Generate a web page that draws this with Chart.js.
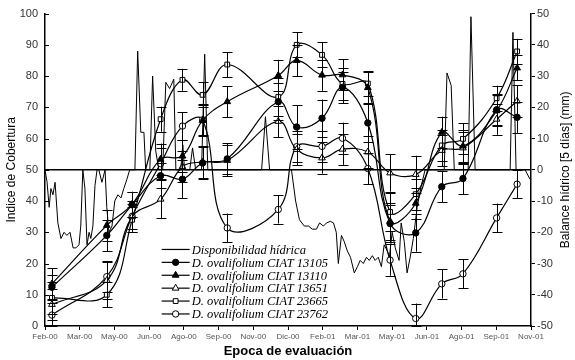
<!DOCTYPE html>
<html>
<head>
<meta charset="utf-8">
<script src="https://cdn.jsdelivr.net/npm/chart.js@4/dist/chart.umd.min.js"></script>
<style>
  html, body { margin: 0; padding: 0; background: #fff; }
  #wrap { width: 575px; height: 360px; }
</style>
</head>
<body>
<div id="wrap"><canvas id="chart"></canvas></div>
<script>
// Tick labels of the date axis (one every ~45 days)
const tickLabels = ['Feb-00', 'Mar-00', 'May-00', 'Jun-00', 'Ago-00', 'Sep-00', 'Nov-00', 'Dic-00',
    'Feb-01', 'Mar-01', 'May-01', 'Jun-01', 'Ago-01', 'Sep-01', 'Nov-01'];

// Evaluation dates, in tick units (0 = Feb-00, 14 = Nov-01)
const evalDates = [0.20, 1.78, 2.51, 3.33, 3.96, 4.54, 5.25, 6.72, 7.25, 7.98, 8.57, 9.30,
    9.94, 10.68, 11.43, 12.04, 13.01, 13.60];

// Cover index (%) and error bars per accession
const cov13105 = [12.4, 29, 38.8, 48.1, 47, 52.2, 53.5, 71.8, 63.7, 66.5, 76.4, 65, 32.8, 29.8, 44.6, 47.2, 69.2, 66.8];
const err13105 = [4, 5, 4, 4, 6, 5, 5, 6, 7, 6, 5, 6, 6, 6, 5, 5, 5, 5];
const cov13110 = [13.5, 32.2, 39, 53.4, 54.4, 65.8, 71.8, 80.2, 85, 80.3, 80.4, 76.3, 33.5, 39.3, 62, 57.6, 68.9, 82.6];
const err13110 = [5, 5, 4, 5, 5, 5, 5, 5, 5, 5, 5, 5, 6, 5, 5, 5, 5, 4];
const cov13651 = [6.9, 14.6, 35, 40.6, 51, 52.5, 53, 65.5, 56.5, 53.8, 56.6, 55.7, 49, 48.5, 56.2, 57, 66.2, 72];
const err13651 = [5, 6, 4, 6, 5, 5, 5, 5, 5, 5, 5, 5, 6, 6, 5, 5, 5, 5];
const cov23665 = [9, 10, 34, 66.2, 78.8, 74, 83.7, 73.3, 90, 86.8, 77.5, 77.6, 36.5, 42.2, 57.8, 59.9, 72.9, 87.9];
const err23665 = [5, 4, 4, 4, 3.5, 4, 4, 6, 4, 4, 5, 4, 6, 5, 5, 5, 4, 4];
const cov23762 = [3.5, 15.8, 35.1, 52, 64, 66, 31.4, 37.3, 57.4, 57.5, 60.1, 50.4, 21.1, 2.4, 13.5, 16.7, 34.6, 45.4];
const err23762 = [4, 5, 5, 5, 4.5, 5, 4.6, 4.5, 5, 5, 5, 5, 5, 4.8, 4.7, 4.6, 4.6, 4.4];

// Water balance (mm per 5 days)
const balX = [0, 0.06, 0.12, 0.17, 0.23, 0.29, 0.37, 0.46, 0.55, 0.63, 0.72, 0.81, 0.89, 0.98, 1.03,
    1.09, 1.15, 1.21, 1.27, 1.32, 1.38, 1.44, 1.50, 1.55, 1.64, 1.73, 1.78, 1.84, 1.93, 2.01, 2.10,
    2.19, 2.27, 2.36, 2.44, 2.59, 2.67, 2.76, 2.85, 2.90, 3.02, 3.10, 3.19, 3.28, 3.39, 3.48, 3.59,
    3.71, 3.77, 3.91, 3.97, 4.02, 4.17, 4.25, 4.34, 4.51, 4.60, 4.69, 6.24, 6.35, 6.47, 7.10, 7.22,
    7.33, 7.47, 7.59, 7.70, 7.82, 7.91, 8.02, 8.11, 8.22, 8.31, 8.39, 8.45, 8.54, 8.62, 8.71, 8.80,
    8.91, 9.00, 9.08, 9.17, 9.26, 9.34, 9.43, 9.51, 9.60, 9.69, 9.77, 9.86, 9.92, 10.00, 10.09,
    10.20, 10.26, 10.35, 10.43, 10.52, 10.61, 10.72, 10.84, 10.95, 11.50, 11.58, 11.70, 11.79,
    12.19, 12.27, 12.39, 13.40, 13.48, 13.57, 13.83, 13.97];
const balY = [0, -4, -12, -6, -8, -4, -17, -22, -20, -21, -20, -25, -25, -24, -18,
    0, -6, -24, -20, -22, -18, -5, 0, 0, -4, 0, -12, -20, -18, -10, -8,
    -9, -6, -3, 0, 0, 38, 12, 12, 0, 0, 30, 6, 0, 0, 28, 26,
    29, 0, 0, 8, 0, 0, 7, 0, 0, 37, 0, 0, 17, 0, 0, -10,
    -16, -18, -18, -19, -19, -17, -18, -17, -16.5, -17, -20, -30, -21, -23, -26, -28,
    -33, -31, -29, -30, -28, -29, -27.5, -29, -28, -31, -24, -26, -28, -20, -25,
    -29, -17, -23, -33, -28, -22, -12, -5, 0, 0, 31, 27, 0,
    0, 49, 0, 0, 44, 0, 0, -3];

const SANS = '"Liberation Sans", Arial, sans-serif';
const SERIF = '"Liberation Serif", "Times New Roman", serif';

function pts(xs, ys) {
    return xs.map((x, i) => ({ x: x, y: ys[i] }));
}

function seriesDataset(label, values, errors, style, filled) {
    return {
        label: label,
        data: pts(evalDates, values),
        errors: errors,
        yAxisID: 'y',
        borderColor: '#000',
        borderWidth: 1.2,
        tension: 0.4,
        pointStyle: style,
        pointRadius: style === 'rect' ? 3.4 : (style === 'triangle' ? 3.9 : 3.2),
        pointBorderWidth: 1,
        pointBorderColor: '#000',
        pointBackgroundColor: filled ? '#000' : '#fff',
        legendSymbol: style,
        legendFilled: filled
    };
}

// Error bars with caps, drawn through the library's scales
const errorBars = {
    id: 'errorBars',
    afterDatasetsDraw(chart) {
        const ctx = chart.ctx;
        const ys = chart.scales.y;
        ctx.save();
        ctx.strokeStyle = '#000';
        ctx.lineWidth = 1;
        chart.data.datasets.forEach((ds, di) => {
            if (!ds.errors) return;
            const meta = chart.getDatasetMeta(di);
            meta.data.forEach((pt, i) => {
                const v = ds.data[i].y, e = ds.errors[i];
                const top = ys.getPixelForValue(v + e);
                const bot = ys.getPixelForValue(Math.max(v - e, 0));
                const x = Math.round(pt.x) + 0.5;
                ctx.beginPath();
                ctx.moveTo(x, top); ctx.lineTo(x, bot);
                ctx.moveTo(x - 5, Math.round(top) + 0.5); ctx.lineTo(x + 5, Math.round(top) + 0.5);
                ctx.moveTo(x - 5, Math.round(bot) + 0.5); ctx.lineTo(x + 5, Math.round(bot) + 0.5);
                ctx.stroke();
            });
        });
        ctx.restore();
    }
};

function drawMarker(ctx, style, filled, x, y) {
    ctx.beginPath();
    if (style === 'circle') {
        ctx.arc(x, y, 3.2, 0, Math.PI * 2);
    } else if (style === 'triangle') {
        const r = 3.9;
        ctx.moveTo(x, y - r);
        ctx.lineTo(x + r * 0.866, y + r * 0.5);
        ctx.lineTo(x - r * 0.866, y + r * 0.5);
        ctx.closePath();
    } else {
        ctx.rect(x - 2.4, y - 2.4, 4.8, 4.8);
    }
    ctx.fillStyle = filled ? '#000' : '#fff';
    ctx.fill();
    ctx.stroke();
}

// Decorations: inward left ticks, right axis title (bottom-to-top), in-plot legend
const decorations = {
    id: 'decorations',
    afterDraw(chart) {
        const ctx = chart.ctx;
        const area = chart.chartArea;
        const ys = chart.scales.y;
        ctx.save();
        ctx.strokeStyle = '#000';
        ctx.lineWidth = 1;
        ys.ticks.forEach(t => {
            const py = Math.round(ys.getPixelForValue(t.value)) + 0.5;
            ctx.beginPath();
            ctx.moveTo(area.left, py);
            ctx.lineTo(area.left + 4, py);
            ctx.stroke();
        });

        // right axis title
        ctx.save();
        ctx.translate(chart.width - 9, (area.top + area.bottom) / 2);
        ctx.rotate(-Math.PI / 2);
        ctx.fillStyle = '#000';
        ctx.font = '12px ' + SANS;
        ctx.textAlign = 'center';
        ctx.textBaseline = 'middle';
        ctx.fillText('Balance h\u00eddrico [5 d\u00edas] (mm)', 0, 0);
        ctx.restore();

        // legend
        const lx = area.left + area.width * 0.24;
        let ly = area.top + area.height * 0.755;
        ctx.font = 'italic 12.5px ' + SERIF;
        ctx.textBaseline = 'middle';
        ctx.textAlign = 'left';
        chart.data.datasets.forEach(ds => {
            if (!ds.legendSymbol) return;
            ctx.strokeStyle = '#000';
            ctx.lineWidth = 1.2;
            ctx.beginPath();
            ctx.moveTo(lx, ly); ctx.lineTo(lx + 28, ly);
            ctx.stroke();
            ctx.lineWidth = 1;
            if (ds.legendSymbol !== 'line') drawMarker(ctx, ds.legendSymbol, ds.legendFilled, lx + 14, ly);
            ctx.fillStyle = '#000';
            ctx.fillText(ds.label, lx + 30, ly + 1);
            ly += 12.9;
        });
        ctx.restore();
    }
};

new Chart(document.getElementById('chart'), {
    type: 'line',
    data: {
        datasets: [
            {
                label: 'Disponibilidad h\u00eddrica',
                data: pts(balX, balY),
                yAxisID: 'y2',
                borderColor: '#000',
                borderWidth: 1,
                pointRadius: 0,
                tension: 0,
                legendSymbol: 'line'
            },
            {
                label: 'zero',
                data: [{ x: 0, y: 0 }, { x: 14, y: 0 }],
                yAxisID: 'y2',
                borderColor: '#000',
                borderWidth: 1.5,
                pointRadius: 0,
                tension: 0
            },
            seriesDataset('D. ovalifolium CIAT 13105', cov13105, err13105, 'circle', true),
            seriesDataset('D. ovalifolium CIAT 13110', cov13110, err13110, 'triangle', true),
            seriesDataset('D. ovalifolium CIAT 13651', cov13651, err13651, 'triangle', false),
            seriesDataset('D. ovalifolium CIAT 23665', cov23665, err23665, 'rect', false),
            seriesDataset('D. ovalifolium CIAT 23762', cov23762, err23762, 'circle', false)
        ]
    },
    options: {
        responsive: true,
        maintainAspectRatio: false,
        animation: false,
        layout: { autoPadding: false, padding: { top: 10, left: 0, right: 0, bottom: 0 } },
        plugins: {
            legend: { display: false },
            tooltip: { enabled: false }
        },
        scales: {
            x: {
                type: 'linear',
                min: 0,
                max: 14,
                afterFit: s => { s.height = 34; },
                afterBuildTicks: s => { s.ticks = tickLabels.map((_, i) => ({ value: i })); },
                ticks: {
                    autoSkip: false,
                    maxRotation: 0,
                    padding: 2,
                    color: '#555',
                    font: { family: SANS, size: 8 },
                    callback: v => tickLabels[v]
                },
                grid: { drawOnChartArea: false, tickLength: 4, color: '#000', lineWidth: 1 },
                border: { color: '#000', width: 1.5 },
                title: {
                    display: true,
                    text: 'Epoca de evaluaci\u00f3n',
                    color: '#000',
                    font: { family: SANS, size: 13, weight: 'bold' },
                    padding: { top: 0, bottom: 1 }
                }
            },
            y: {
                position: 'left',
                min: 0,
                max: 100,
                afterFit: s => { s.width = 45; },
                ticks: { stepSize: 10, padding: 7, color: '#333', font: { family: SANS, size: 11 } },
                grid: { display: false, drawTicks: false },
                border: { color: '#000', width: 1.5 },
                title: {
                    display: true,
                    text: 'Indice de Cobertura',
                    color: '#000',
                    font: { family: SANS, size: 12 }
                }
            },
            y2: {
                position: 'right',
                min: -50,
                max: 50,
                afterFit: s => { s.width = 44; },
                ticks: { stepSize: 10, padding: 2, color: '#333', font: { family: SANS, size: 11 } },
                grid: { drawOnChartArea: false, tickLength: 4, color: '#000', lineWidth: 1 },
                border: { color: '#000', width: 1.5 }
            }
        }
    },
    plugins: [errorBars, decorations]
});
</script>
</body>
</html>
